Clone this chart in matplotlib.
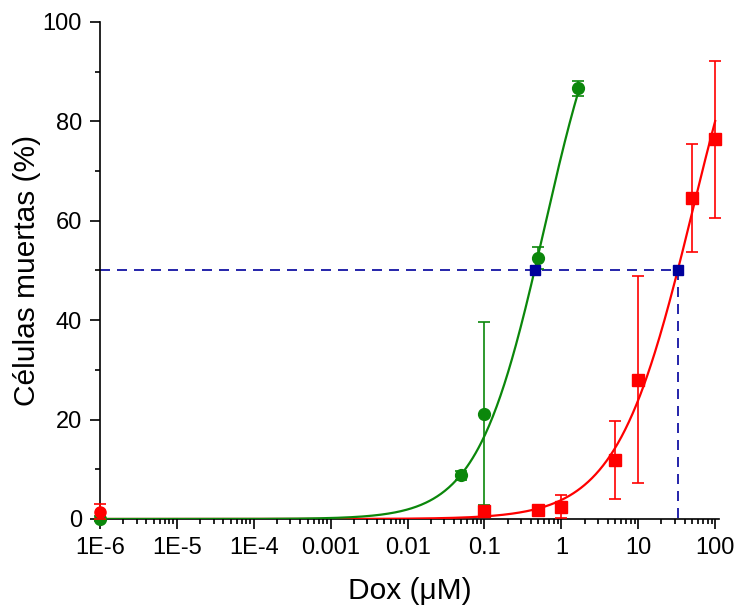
import numpy as np
import matplotlib
matplotlib.use("Agg")
import matplotlib.pyplot as plt
from matplotlib.ticker import LogLocator, NullFormatter, MultipleLocator, FixedLocator, FixedFormatter

plt.rcParams['font.family'] = ['Liberation Sans', 'DejaVu Sans']

# ---- data ----
green_x = [1e-6, 0.05, 0.1, 0.5, 1.65]
green_y = [0.0, 8.8, 21.2, 52.6, 86.7]
green_err = [0.5, 0.9, 18.4, 2.2, 1.5]

red_x = [0.1, 0.5, 1, 5, 10, 50, 100]
red_y = [1.7, 1.8, 2.5, 11.9, 28.0, 64.6, 76.4]
red_err = [0.5, 0.5, 2.4, 7.8, 20.8, 10.8, 15.8]

red_ctrl_x = [1e-6]
red_ctrl_y = [1.5]
red_ctrl_err = [1.5]

# fitted dose-response curves (top, EC50, Hill slope, last x)
green_fit = [117.0, 0.60, 1.0, 1.65]
red_fit = [125.0, 51.7, 0.876, 100.0]

ic50_x = [0.46, 33.3]
ic50_y = [50, 50]

xtick_vals = [1e-6, 1e-5, 1e-4, 1e-3, 1e-2, 1e-1, 1, 10, 100]
xtick_labels = ["1E-6", "1E-5", "1E-4", "0.001", "0.01", "0.1", "1", "10", "100"]
ytick_vals = [0, 20, 40, 60, 80, 100]

GREEN = "#0b870b"
RED = "#ff0000"
BLUE = "#00009c"

fig = plt.figure(figsize=(7.39, 6.11), dpi=100)
ax = fig.add_axes([0.1353, 0.1506, 0.8376, 0.8134])
ax.set_xscale('log')


def hill(x, p):
    top, ec50, h, _ = p
    return top / (1.0 + (ec50 / x) ** h)


xg = np.logspace(-6, np.log10(green_fit[3]), 500)
xr = np.logspace(-6, np.log10(red_fit[3]), 500)

# dashed IC50 guide lines
ax.plot([1e-6, ic50_x[1]], [ic50_y[1], ic50_y[1]], color=BLUE, lw=1.2,
        linestyle=(0, (6.0, 4.2)), zorder=2)
ax.plot([ic50_x[1], ic50_x[1]], [ic50_y[1], 0], color=BLUE, lw=1.2,
        linestyle=(0, (6.0, 4.2)), zorder=2)

# fitted curves
ax.plot(xr, hill(xr, red_fit), color=RED, lw=1.6, zorder=3)
ax.plot(xg, hill(xg, green_fit), color=GREEN, lw=1.6, zorder=4)

# data with error bars
ax.errorbar(green_x, green_y, yerr=green_err, fmt='o', color=GREEN, ms=8.5,
            elinewidth=1.2, capsize=4, capthick=1.2, zorder=5, clip_on=False)
ax.errorbar(red_x, red_y, yerr=red_err, fmt='s', color=RED, ms=8.5,
            elinewidth=1.2, capsize=4, capthick=1.2, zorder=6, clip_on=False)
ax.errorbar(red_ctrl_x, red_ctrl_y, yerr=red_ctrl_err, fmt='o', color=RED, ms=8,
            elinewidth=1.2, capsize=4, capthick=1.2, zorder=6, clip_on=False)

# IC50 markers
ax.plot(ic50_x, ic50_y, 's', color=BLUE, ms=7.5, zorder=8)

ax.set_xlim(1e-6, 112)
ax.set_ylim(0, 100)

ax.spines['top'].set_visible(False)
ax.spines['right'].set_visible(False)
for s in ('left', 'bottom'):
    ax.spines[s].set_linewidth(1.2)

ax.xaxis.set_major_locator(FixedLocator(xtick_vals))
ax.xaxis.set_major_formatter(FixedFormatter(xtick_labels))
ax.xaxis.set_minor_locator(LogLocator(base=10, subs=np.arange(2, 10), numticks=100))
ax.xaxis.set_minor_formatter(NullFormatter())
ax.set_yticks(ytick_vals)
ax.yaxis.set_minor_locator(MultipleLocator(10))

ax.tick_params(axis='both', which='major', direction='out', length=7, width=1.2,
               labelsize=17, pad=6)
ax.tick_params(axis='both', which='minor', direction='out', length=3.6, width=1.2)

ax.set_xlabel("Dox (μM)", fontsize=21.5, labelpad=13)
ax.set_ylabel("Células muertas (%)", fontsize=21.5, labelpad=1)

fig.savefig("out.png", dpi=100)
